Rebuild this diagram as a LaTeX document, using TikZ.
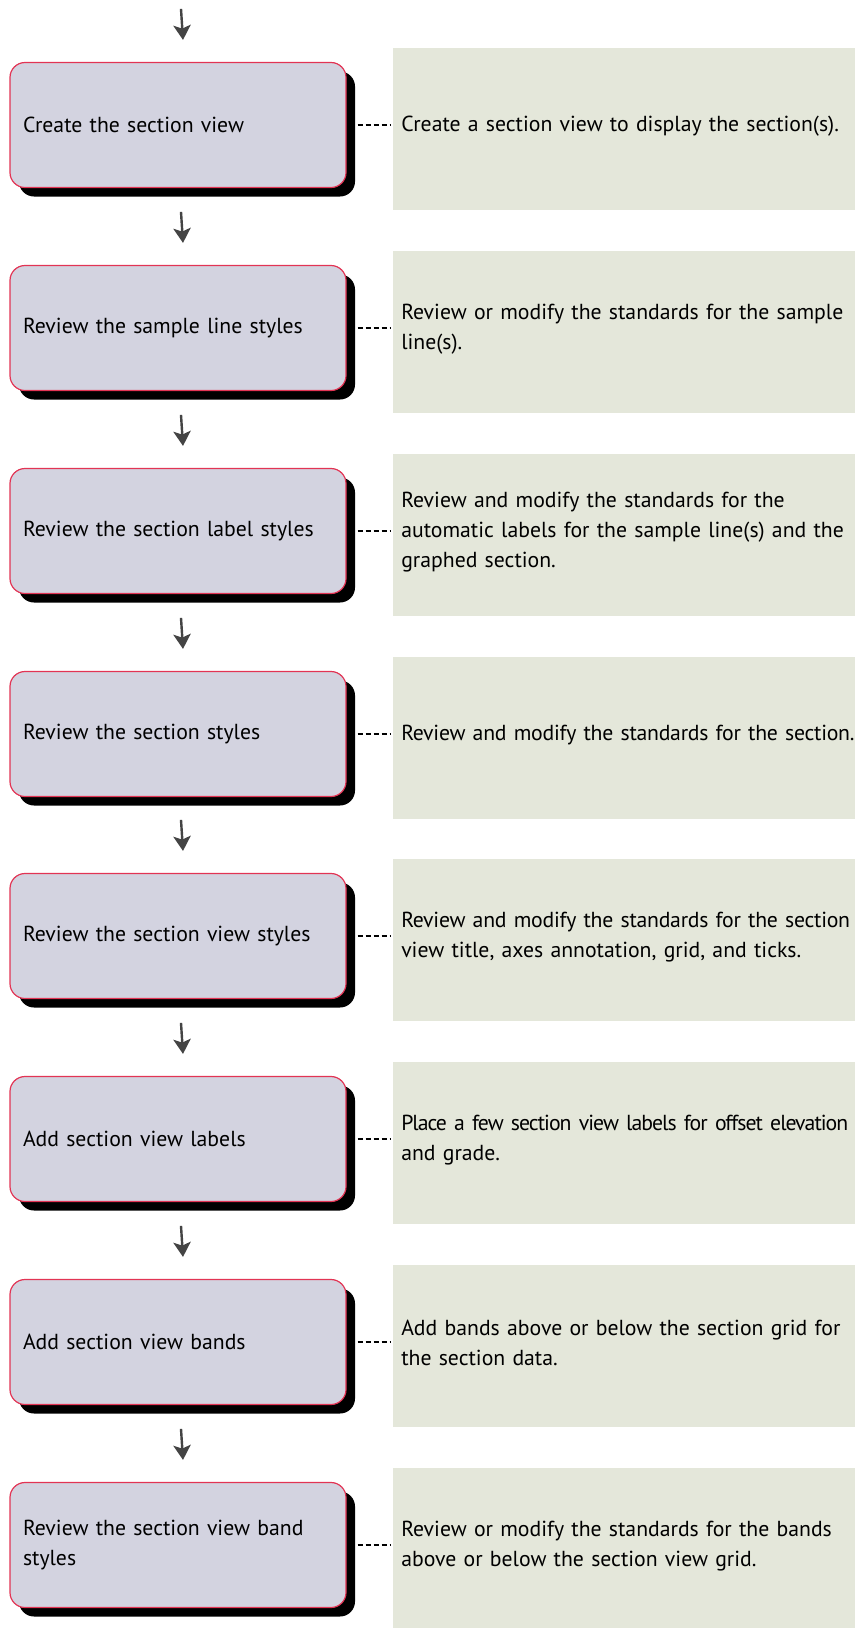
\documentclass[tikz,border=0pt]{standalone}
\usepackage{fontspec}
\setmainfont{PT Sans}
\usetikzlibrary{arrows.meta,shadows,calc}
\usetikzlibrary{positioning}
\definecolor{boxfill}{RGB}{211,211,224}
\definecolor{boxedge}{RGB}{226,52,84}
\definecolor{notefill}{RGB}{228,231,218}
\definecolor{arrowgray}{RGB}{68,68,68}
\newcommand{\snug}[2]{{\addfontfeature{LetterSpace=#1}#2}}
\tikzstyle{stepbox}=[rectangle, rounded corners=11.25pt, draw=boxedge, line width=0.9pt,
    fill=boxfill, minimum width=252pt, minimum height=93.75pt, text width=232.5pt,
    align=left, inner xsep=9.75pt,
    drop shadow={shadow xshift=6.75pt, shadow yshift=-6.75pt, fill=black, opacity=1}]
\tikzstyle{notebox}=[rectangle, fill=notefill, minimum width=460pt, minimum height=121.5pt,
    anchor=west, inner sep=0pt]
\tikzstyle{notetext}=[anchor=west, text width=450pt, align=left, inner sep=0pt]
\tikzstyle{flowarrow}=[-{Stealth[length=11pt, width=13pt, inset=2.5pt]}, line width=1.8pt, draw=arrowgray, fill=arrowgray]
\tikzstyle{linkline}=[dash pattern=on 3.75pt off 2.25pt, line width=1.1pt]

\begin{document}
\begin{tikzpicture}[x=0.75pt, y=-0.75pt, font=\fontsize{16.3}{22.5}\selectfont]
    %\draw[help lines] (0,0) grid[step=100] (854,1628) ;
    \useasboundingbox (0,0) rectangle (854,1628) ;
    \foreach \btext/\ntext [count=\i] in {
        {Create the section view}/{Create a section view to display the section(s).},
        {Review the sample line styles}/{Review or modify the standards for the sample\\line(s).},
        {Review the section label styles}/{Review and modify the standards for the\\automatic labels for the sample line(s) and the\\graphed section.},
        {Review the section styles}/{\snug{-1.2}{Review and modify the standards for the section.}},
        {Review the section view styles}/{\snug{-1.2}{Review and modify the standards for the section}\\view title, axes annotation, grid, and ticks.},
        {Add section view labels}/{\snug{-4.5}{Place a few section view labels for offset elevation}\\and grade.},
        {Add section view bands}/{Add bands above or below the section grid for\\the section data.},
        {Review the section view band\\styles}/{Review or modify the standards for the bands\\above or below the section view grid.}}
    {
        \pgfmathsetmacro{\cy}{int(125.5+(\i-1)*202.86)}
        \node[notebox] (n\i) at (393, \cy+4) {} ;
        \node[stepbox] (b\i) at (178, \cy) {\btext} ;
        \node[notetext] (t\i) at (401, \cy+1) {\ntext} ;
        % arrow above each step
        \draw[flowarrow] ($(b\i.north)+(3,-53)$) -- ($(b\i.north)+(5,-22)$) ;
        \draw[linkline] ($(b\i.east)+(11,0)$) -- ($(b\i.east -| n\i.west)+(-3,0)$) ;
    }
\end{tikzpicture}
\end{document}
